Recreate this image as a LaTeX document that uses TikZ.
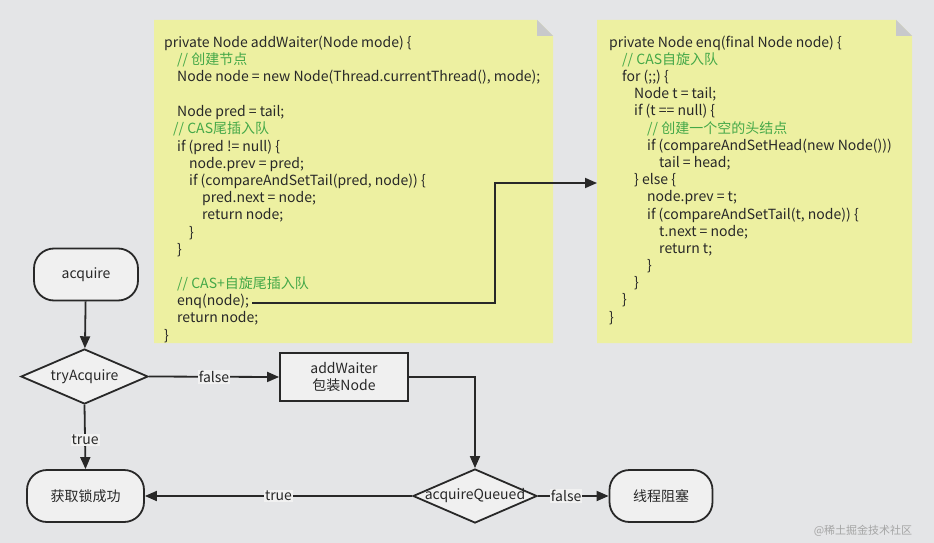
\documentclass[tikz,border=0pt]{standalone}
\usepackage{fontspec}
\setmainfont{Noto Sans CJK SC}
\usetikzlibrary{arrows.meta,shapes.geometric}
\definecolor{bgc}{RGB}{228,229,231}
\definecolor{notec}{RGB}{237,240,161}
\definecolor{foldc}{RGB}{200,201,203}
\definecolor{cmtc}{RGB}{68,168,72}
\definecolor{ink}{RGB}{40,40,40}
\definecolor{boxc}{RGB}{240,240,240}
\definecolor{lblc}{RGB}{241,241,241}
\definecolor{wmc}{RGB}{165,165,165}
\begin{document}
\begin{tikzpicture}[x=1pt,y=-1pt,
  code/.style={anchor=west, inner sep=0pt, text height=10.5pt, text depth=4pt, text=ink, font=\fontsize{14}{17}\selectfont},
  cmt/.style={code, text=cmtc},
  flowfont/.style={font=\fontsize{14}{17}\selectfont, text=ink},
  term/.style={flowfont, draw=ink, line width=1.8pt, fill=boxc, rounded corners=20pt, inner sep=0pt},
  proc/.style={flowfont, draw=ink, line width=1.8pt, fill=boxc, inner sep=0pt, align=center},
  decision/.style={draw=ink, line width=1.8pt, fill=boxc, shape=diamond, inner sep=0pt},
  lbl/.style={flowfont, fill=lblc, inner sep=1pt},
  conn/.style={draw=ink, line width=1.8pt, -{Triangle[length=12pt,width=10pt]}},
]
\fill[bgc] (0,0) rectangle (934,543);
\useasboundingbox (0,0) rectangle (934,543);

% notes
\fill[notec] (154,20) -- (537,20) -- (553,36) -- (553,343) -- (154,343) -- cycle;
\fill[foldc] (537,20) -- (537,36) -- (553,36) -- cycle;
\fill[notec] (597,20) -- (896,20) -- (912,36) -- (912,343) -- (597,343) -- cycle;
\fill[foldc] (896,20) -- (896,36) -- (912,36) -- cycle;

% note 1 code
\node[code] (c1) at (164,44) {private Node addWaiter(Node mode) \{};
\node[cmt] (c2) at (177,61.2) {// 创建节点};
\node[code] (c3) at (177,78.4) {Node node = new Node(Thread.currentThread(), mode);};
\node[code] (c5) at (177,113.5) {Node pred = tail;};
\node[cmt] (c6) at (173,130.7) {// CAS尾插入队};
\node[code] (c7) at (177,147.9) {if (pred != null) \{};
\node[code] (c8) at (189,165.1) {node.prev = pred;};
\node[code] (c9) at (189,182.3) {if (compareAndSetTail(pred, node)) \{};
\node[code] (c10) at (202,199.4) {pred.next = node;};
\node[code] (c11) at (202,216.6) {return node;};
\node[code] (c12) at (189,233.8) {\}};
\node[code] (c13) at (177,251) {\}};
\node[cmt] (c15) at (177,285.4) {// CAS+自旋尾插入队};
\node[code] (c16) at (177,302.6) {enq(node);};
\node[code] (c17) at (177,319.7) {return node;};
\node[code] (c18) at (164,336.9) {\}};

% note 2 code
\node[code] (e1) at (609,44) {private Node enq(final Node node) \{};
\node[cmt] (e2) at (622,61.2) {// CAS自旋入队};
\node[code] (e3) at (622,78.4) {for (;;) \{};
\node[code] (e4) at (634,95.5) {Node t = tail;};
\node[code] (e5) at (634,112.7) {if (t == null) \{};
\node[cmt] (e6) at (647,129.9) {// 创建一个空的头结点};
\node[code] (e7) at (647,147.1) {if (compareAndSetHead(new Node()))};
\node[code] (e8) at (659,164.3) {tail = head;};
\node[code] (e9) at (634,181.5) {\} else \{};
\node[code] (e10) at (647,198.6) {node.prev = t;};
\node[code] (e11) at (647,215.8) {if (compareAndSetTail(t, node)) \{};
\node[code] (e12) at (659,233) {t.next = node;};
\node[code] (e13) at (659,250.2) {return t;};
\node[code] (e14) at (647,267.4) {\}};
\node[code] (e15) at (634,284.6) {\}};
\node[code] (e16) at (622,301.7) {\}};
\node[code] (e17) at (609,318.9) {\}};

% connector enq -> note 2
\coordinate (bend) at (495,183);
\coordinate (enqin) at (597,183);
\draw[conn, shorten <=3pt] (c16.east) -| (bend) -- (enqin);

% flowchart
\node[term, minimum width=104pt, minimum height=52pt] (acq) at (86,274.5) {acquire};
\node[decision, minimum width=127pt, minimum height=55pt,
      label={[flowfont]center:tryAcquire}] (try) at (84.5,376.5) {};
\node[proc, minimum width=128pt, minimum height=48pt] (aw) at (344,377) {addWaiter\\包装Node};
\node[decision, minimum width=124pt, minimum height=54pt,
      label={[flowfont]center:acquireQueued}] (aq) at (475,496) {};
\node[term, minimum width=117pt, minimum height=52pt] (succ) at (85.5,496) {获取锁成功};
\node[term, minimum width=103pt, minimum height=52pt] (blk) at (661,496) {线程阻塞};

\draw[conn] (acq) -- (try);
\draw[conn] (try.east) -- node[lbl] {false} (aw.west);
\draw[conn] (try.south) -- node[lbl, pos=0.55] {true} (succ.north);
\draw[conn] (aw.east) -| (aq.north);
\draw[conn] (aq.west) -- node[lbl] {true} (succ.east);
\draw[conn] (aq.east) -- node[lbl, pos=0.4] {false} (blk.west);

\node[font=\fontsize{11}{11}\selectfont, text=wmc] (wm) at (863,531) {@稀土掘金技术社区};
\end{tikzpicture}
\end{document}
